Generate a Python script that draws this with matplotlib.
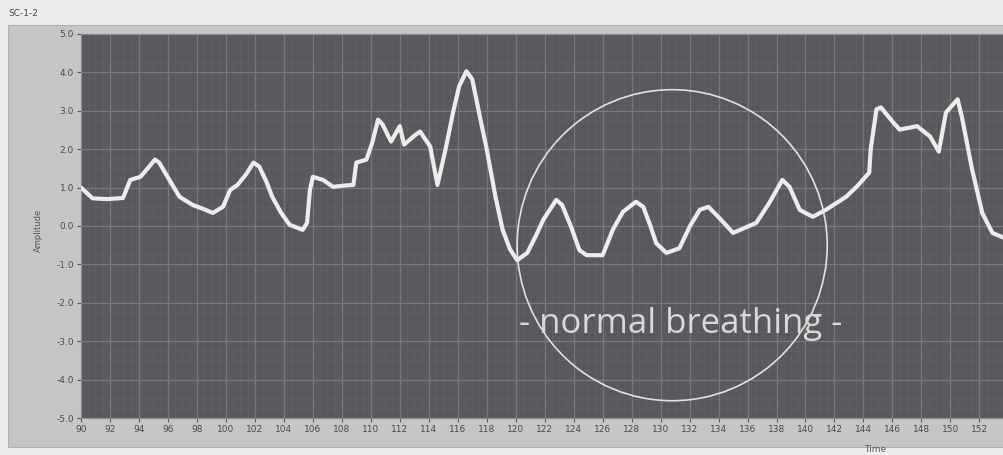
import matplotlib
matplotlib.use("Agg")
import matplotlib.pyplot as plt
from matplotlib.patches import Ellipse, Rectangle
from matplotlib.ticker import MultipleLocator

# ---- data ----
time = [90.0, 90.8, 91.8, 92.9, 93.4, 94.1, 94.6, 95.1, 95.4, 96.1, 96.8, 97.7,
        98.4, 99.1, 99.8, 100.3, 100.8, 101.4, 101.9, 102.3, 102.8, 103.2, 103.8,
        104.4, 105.3, 105.6, 105.8, 106.0, 106.7, 107.4, 108.1, 108.8, 109.0,
        109.7, 110.1, 110.5, 110.8, 111.4, 112.0, 112.3, 113.0, 113.4, 114.1,
        114.6, 115.2, 115.7, 116.1, 116.6, 117.0, 117.5, 118.0, 118.6, 119.1,
        119.6, 120.1, 120.8, 121.4, 121.9, 122.8, 123.2, 123.8, 124.4, 124.9,
        126.0, 126.7, 127.4, 128.3, 128.8, 129.3, 129.7, 130.4, 131.3, 132.0,
        132.7, 133.3, 134.2, 135.0, 136.6, 137.5, 138.4, 138.9, 139.6, 140.5,
        141.4, 142.8, 143.6, 144.4, 144.5, 144.9, 145.2, 146.0, 146.5, 147.7,
        148.6, 149.2, 149.7, 150.5, 150.8, 151.5, 152.2, 152.9, 153.7]
amplitude = [1.0, 0.72, 0.70, 0.73, 1.2, 1.28, 1.5, 1.73, 1.65, 1.2, 0.76, 0.55,
             0.45, 0.34, 0.5, 0.94, 1.07, 1.35, 1.65, 1.55, 1.15, 0.76, 0.35,
             0.03, -0.1, 0.08, 0.94, 1.28, 1.2, 1.02, 1.05, 1.07, 1.65,
             1.73, 2.17, 2.77, 2.65, 2.2, 2.6, 2.12, 2.35, 2.46, 2.07,
             1.07, 2.07, 3.0, 3.64, 4.03, 3.82, 2.9, 2.0, 0.77, -0.1,
             -0.6, -0.89, -0.7, -0.25, 0.16, 0.68, 0.55, 0.0, -0.63, -0.76,
             -0.76, -0.1, 0.37, 0.63, 0.5, 0.0, -0.45, -0.7, -0.58, -0.02,
             0.42, 0.5, 0.15, -0.18, 0.08, 0.6, 1.2, 1.02, 0.42, 0.24,
             0.42, 0.76, 1.05, 1.39, 2.0, 3.04, 3.09, 2.72, 2.51, 2.6,
             2.33, 1.94, 2.96, 3.3, 2.83, 1.47, 0.34, -0.18, -0.31]

x_ticks = list(range(90, 154, 2))
y_ticks = [5.0, 4.0, 3.0, 2.0, 1.0, 0.0, -1.0, -2.0, -3.0, -4.0, -5.0]
y_tick_labels = ["5.0", "4.0", "3.0", "2.0", "1.0", "0.0", "-1.0", "-2.0", "-3.0", "-4.0", "-5.0"]
title = "SC-1-2"
annotation = "- normal breathing -"

W, H = 1004, 455
fig = plt.figure(figsize=(W / 100, H / 100), dpi=100)
fig.patch.set_facecolor("#eeeeee")

# light-gray instrument panel
panel = Rectangle((8 / W, 1 - 447 / H), 1 - 8 / W, (447 - 25) / H,
                  transform=fig.transFigure, facecolor="#c6c6c6",
                  edgecolor="#b0b0b0", lw=0.8, zorder=-5)
fig.patches.append(panel)

ax = fig.add_axes([81 / W, 1 - 418 / H, 1 - 81 / W, (418 - 34) / H])
ax.set_zorder(2)
ax.set_facecolor("#58595d")
ax.set_xlim(90, 153.7)
ax.set_ylim(-5.0, 5.0)

ax.set_xticks(x_ticks)
ax.set_xticklabels([str(t) for t in x_ticks])
ax.set_yticks(y_ticks)
ax.set_yticklabels(y_tick_labels)
ax.xaxis.set_minor_locator(MultipleLocator(0.5))
ax.yaxis.set_minor_locator(MultipleLocator(0.25))
ax.grid(which="major", color="#7a7a7e", lw=0.9)
ax.grid(which="minor", color="#626266", lw=0.5)
ax.set_axisbelow(True)
ax.tick_params(which="major", labelsize=6.5, colors="#555555", length=3, width=0.8,
               labelcolor="#4a4a4a", pad=2)
ax.tick_params(which="minor", length=0)
for s in ax.spines.values():
    s.set_color("#8a8a8a")
    s.set_linewidth(0.8)

ax.plot(time, amplitude, color="#ececec", lw=3.0, solid_joinstyle="round",
        solid_capstyle="round", zorder=3)

circle = Ellipse((130.8, -0.5), 21.4, 8.1, fill=False, edgecolor="#e2e2e2", lw=1.2, zorder=4)
ax.add_patch(circle)
ax.text(131.4, -2.55, annotation, ha="center", va="center", fontsize=25,
        family="Open Sans", color="#d8d8d8", zorder=5)

fig.text(8 / W, 1 - 14 / H, title, fontsize=6.5, color="#444444", va="center", ha="left")
fig.text(38 / W, 1 - 230 / H, "Amplitude", fontsize=6, color="#555555", rotation=90,
         va="center", ha="center", zorder=3)
fig.text(875 / W, 1 - 450 / H, "Time", fontsize=6.5, color="#555555", va="center", ha="center")

fig.savefig("out.png", dpi=100, facecolor=fig.get_facecolor())
